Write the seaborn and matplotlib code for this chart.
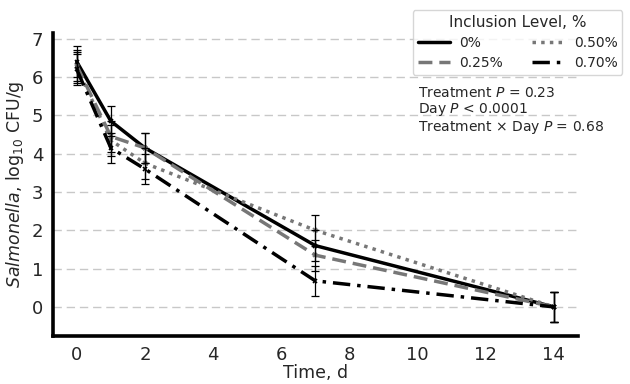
import numpy as np
import pandas as pd
import matplotlib
matplotlib.use("Agg")
import matplotlib.pyplot as plt
import seaborn as sns

days = [0, 1, 2, 7, 14]
levels = ["0%", "0.25%", "0.50%", "0.70%"]
salm_0 = [6.40, 4.85, 4.15, 1.60, 0.0]
salm_025 = [6.30, 4.45, 4.15, 1.35, 0.0]
salm_050 = [6.25, 4.35, 3.75, 2.00, 0.0]
salm_070 = [6.20, 4.15, 3.60, 0.68, 0.0]
sem = 0.4

series = {"0%": salm_0, "0.25%": salm_025, "0.50%": salm_050, "0.70%": salm_070}
colors = {"0%": "black", "0.25%": "#777777", "0.50%": "#777777", "0.70%": "black"}
styles = {"0%": "-", "0.25%": (0, (4, 2)), "0.50%": (0, (1, 1.5)), "0.70%": (0, (5, 2, 1, 2))}

sns.set_style("white")
plt.rcParams["font.family"] = ["DejaVu Sans"]

fig = plt.figure(figsize=(6.3, 3.84), dpi=100)
ax = fig.add_axes([0.084, 0.125, 0.833, 0.79])

ax.grid(axis="y", color="#c8c8c8", linestyle=(0, (6, 3.5)), linewidth=1.0, zorder=0)

for lvl in levels:
    sns.lineplot(x=days, y=series[lvl], color=colors[lvl], linestyle=styles[lvl],
                 linewidth=2.5, marker="x", markersize=3.5, markeredgewidth=1.2,
                 markeredgecolor=colors[lvl], label=lvl, ax=ax, zorder=3)

for lvl in levels:
    ax.errorbar(days, series[lvl], yerr=sem, fmt="none", ecolor="black",
                elinewidth=0.9, capsize=3, capthick=0.9, zorder=4)

ax.set_xticks([0, 2, 4, 6, 8, 10, 12, 14])
ax.set_yticks(range(0, 8))
ax.tick_params(axis="both", labelsize=13, length=0, pad=7)
ax.set_xlabel("Time, d", fontsize=12.5, labelpad=0)
ax.set_ylabel(r"$\it{Salmonella}$, log$_{10}$ CFU/g", fontsize=12.5, labelpad=4)

for s in ["top", "right"]:
    ax.spines[s].set_visible(False)
for s in ["left", "bottom"]:
    ax.spines[s].set_linewidth(2.6)
    ax.spines[s].set_color("black")

handles, labels = ax.get_legend_handles_labels()
leg = ax.legend(handles, labels, title="Inclusion Level, %", ncol=2, fontsize=10, title_fontsize=11,
                loc="upper right", bbox_to_anchor=(0.988, 0.974), bbox_transform=fig.transFigure,
                borderaxespad=0, handlelength=2.3, columnspacing=2.1, handletextpad=0.7,
                borderpad=0.35, labelspacing=0.45, frameon=True, edgecolor="#cccccc")
for line in leg.get_lines():
    line.set_marker("")

notes = ["Treatment $\\it{P}$ = 0.23", "Day $\\it{P}$ < 0.0001",
         "Treatment \u00d7 Day $\\it{P}$ = 0.68"]
for i, t in enumerate(notes):
    fig.text(0.663, 1 - (93 + 17 * i) / 384, t, fontsize=10, va="center", ha="left")

fig.savefig("out.png", dpi=100)
